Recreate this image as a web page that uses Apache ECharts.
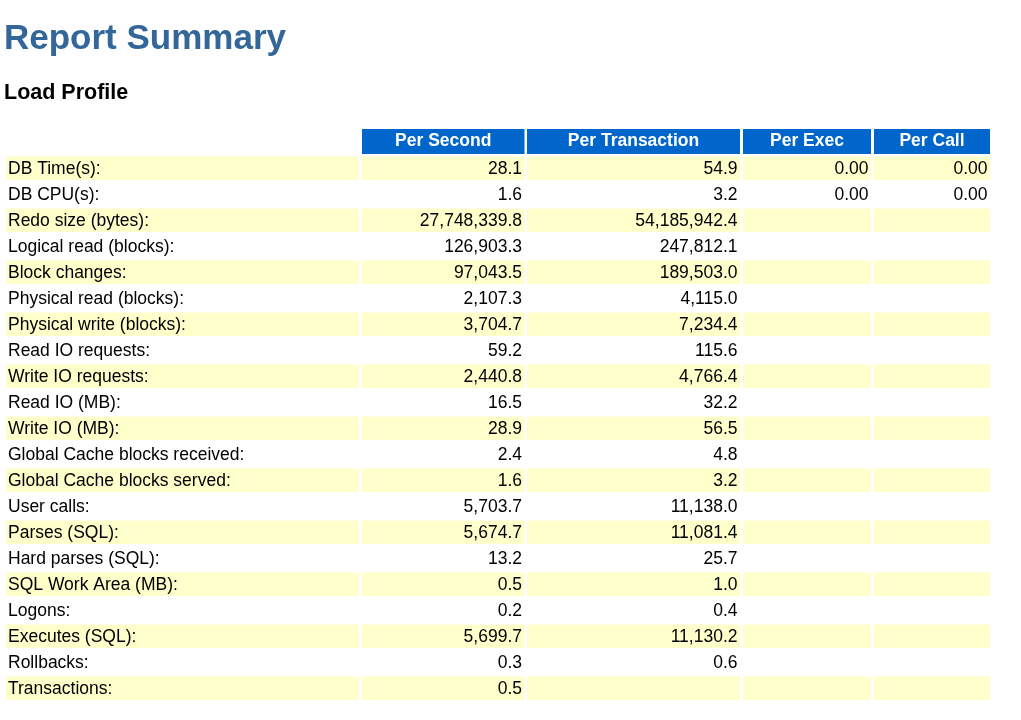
<!DOCTYPE html>
<html>
<head>
<meta charset="utf-8">
<script src="https://cdn.jsdelivr.net/npm/echarts@6/dist/echarts.min.js"></script>
<style>
html,body{margin:0;padding:0;background:#fff;}
#c{width:1021px;height:720px;}
</style>
</head>
<body>
<div id="c"></div>
<script>
// ---- data ----
var columnHeaders = ['', 'Per Second', 'Per Transaction', 'Per Exec', 'Per Call'];
var rowLabels = ['DB Time(s):', 'DB CPU(s):', 'Redo size (bytes):', 'Logical read (blocks):', 'Block changes:',
  'Physical read (blocks):', 'Physical write (blocks):', 'Read IO requests:', 'Write IO requests:', 'Read IO (MB):',
  'Write IO (MB):', 'Global Cache blocks received:', 'Global Cache blocks served:', 'User calls:', 'Parses (SQL):',
  'Hard parses (SQL):', 'SQL Work Area (MB):', 'Logons:', 'Executes (SQL):', 'Rollbacks:', 'Transactions:'];
var perSecond = [28.1, 1.6, 27748339.8, 126903.3, 97043.5, 2107.3, 3704.7, 59.2, 2440.8, 16.5,
  28.9, 2.4, 1.6, 5703.7, 5674.7, 13.2, 0.5, 0.2, 5699.7, 0.3, 0.5];
var perTransaction = [54.9, 3.2, 54185942.4, 247812.1, 189503.0, 4115.0, 7234.4, 115.6, 4766.4, 32.2,
  56.5, 4.8, 3.2, 11138.0, 11081.4, 25.7, 1.0, 0.4, 11130.2, 0.6, null];
var perExec = [0.00, 0.00, null, null, null, null, null, null, null, null,
  null, null, null, null, null, null, null, null, null, null, null];
var perCall = [0.00, 0.00, null, null, null, null, null, null, null, null,
  null, null, null, null, null, null, null, null, null, null, null];

// ---- layout (not data) ----
var colEdges = [[6, 359], [362, 524.5], [527, 740], [743, 871], [874, 990]];
var FONT = "'Liberation Sans', Arial, Helvetica, sans-serif";

function fmt(v, d) {
  if (v === null || v === undefined) return '';
  var s = v.toFixed(d);
  var parts = s.split('.');
  parts[0] = parts[0].replace(/\B(?=(\d{3})+(?!\d))/g, ',');
  return parts.join('.');
}

var cells = [];
for (var c = 1; c < columnHeaders.length; c++) {
  cells.push({col: c, row: 0, text: columnHeaders[c], header: true});
}
var cols = [null, perSecond, perTransaction, perExec, perCall];
var decs = [0, 1, 1, 2, 2];
for (var r = 0; r < rowLabels.length; r++) {
  cells.push({col: 0, row: r + 1, text: rowLabels[r], header: false});
  for (var c2 = 1; c2 < cols.length; c2++) {
    cells.push({col: c2, row: r + 1, text: fmt(cols[c2][r], decs[c2]), header: false});
  }
}

var chart = echarts.init(document.getElementById('c'), null, {renderer: 'canvas'});
chart.setOption({
  backgroundColor: '#ffffff',
  animation: false,
  title: [
    {text: 'Report Summary', left: 4, top: 22, padding: 0,
      textStyle: {fontFamily: FONT, fontSize: 35, fontWeight: 'bold', color: '#336699', lineHeight: 35}},
    {text: 'Load Profile', left: 4, top: 82, padding: 0,
      textStyle: {fontFamily: FONT, fontSize: 21.5, fontWeight: 'bold', color: '#000000', lineHeight: 21.5}}
  ],
  grid: {left: 0, right: 0, top: 129.25, bottom: 18.75, containLabel: false},
  xAxis: {type: 'value', min: 0, max: 1021, show: false},
  yAxis: {type: 'category', inverse: true, show: false,
    data: ['header'].concat(rowLabels)},
  series: [{
    type: 'custom',
    coordinateSystem: 'cartesian2d',
    data: cells.map(function (cl) { return [cl.col, cl.row]; }),
    renderItem: function (params, api) {
      var cell = cells[params.dataIndex];
      var row = api.value(1);
      var e = colEdges[cell.col];
      var x0 = api.coord([e[0], row])[0];
      var x1 = api.coord([e[1], row])[0];
      var cy = api.coord([0, row])[1];
      var children = [];
      if (cell.header) {
        var top = cy - 13.25;
        children.push({type: 'rect', shape: {x: x0, y: top, width: x1 - x0, height: 25},
          style: {fill: '#0066CC'}});
        children.push({type: 'text', style: {text: cell.text, x: (x0 + x1) / 2, y: top + 12,
          align: 'center', verticalAlign: 'middle', fill: '#ffffff',
          font: 'bold 17.5px ' + FONT}});
      } else {
        var even = (row - 1) % 2 === 0;
        if (even) {
          children.push({type: 'rect', shape: {x: x0, y: cy - 11.75, width: x1 - x0, height: 23.5},
            style: {fill: '#FFFFCC'}});
        }
        if (cell.text) {
          var left = cell.col === 0;
          children.push({type: 'text', style: {text: cell.text,
            x: left ? x0 + 2 : x1 - 2.5, y: cy + 0.5,
            align: left ? 'left' : 'right', verticalAlign: 'middle', fill: '#000000',
            font: '17.5px ' + FONT}});
        }
      }
      return {type: 'group', children: children};
    }
  }]
});
</script>
</body>
</html>
